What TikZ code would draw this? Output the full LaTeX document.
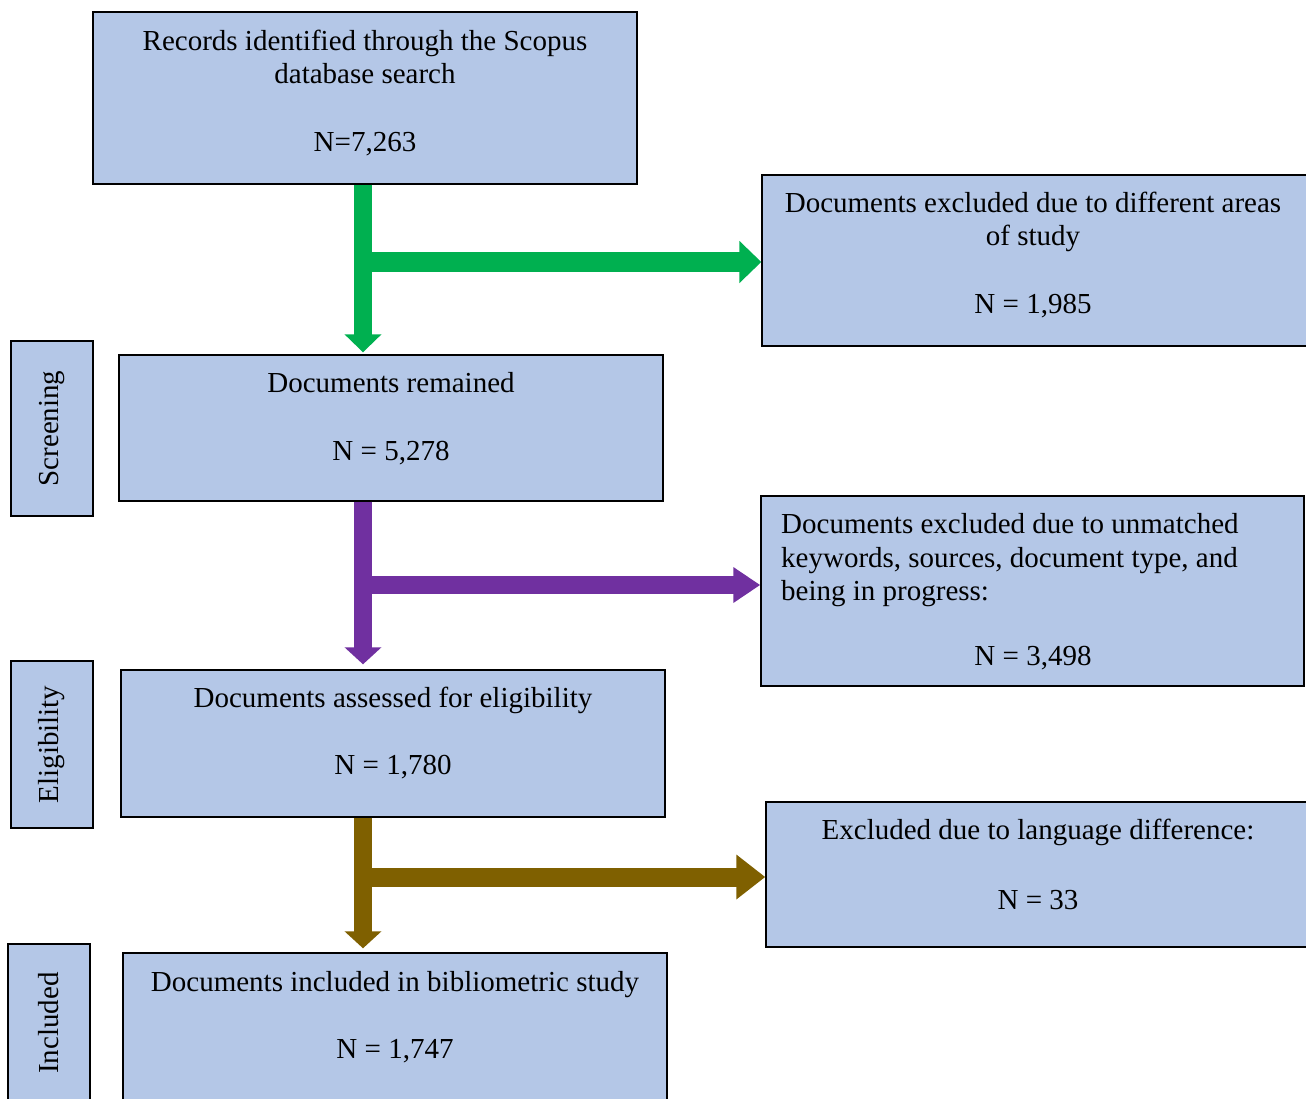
\documentclass[tikz,border=0pt]{standalone}
\usepackage{fontspec}
\setmainfont{Liberation Serif}
\usetikzlibrary{arrows.meta}
\definecolor{boxfill}{HTML}{B4C7E7}
\definecolor{ggreen}{HTML}{00B050}
\definecolor{gpurple}{HTML}{7030A0}
\definecolor{gbrown}{HTML}{7F6000}
\begin{document}
\begin{tikzpicture}[x=1pt,y=-1pt,
  box/.style={draw=black, line width=1.4pt, fill=boxfill, inner sep=0pt, font=\fontsize{29}{33}\selectfont},
  txt/.style={anchor=base, inner sep=0pt, font=\fontsize{29}{33}\selectfont},
  txtl/.style={anchor=base west, inner sep=0pt, font=\fontsize{29}{33}\selectfont},
  flow/.style={draw=#1, line width=18pt}
]
\useasboundingbox (0,0) rectangle (1306,1098);

% boxes
\node[box, minimum width=544pt, minimum height=172pt] (top) at (365,98) {};
\node[box, minimum width=546pt, minimum height=171pt] (ex1) at (1035,260.5) {};
\node[box, rotate=90, minimum width=175pt, minimum height=82pt] (scr) at (52,428.5) {Screening};
\node[box, minimum width=544pt, minimum height=146pt] (rem) at (391,428) {};
\node[box, minimum width=543pt, minimum height=190pt] (ex2) at (1032.5,591) {};
\node[box, rotate=90, minimum width=167pt, minimum height=82pt] (eli) at (52,744.5) {Eligibility};
\node[box, minimum width=544pt, minimum height=147pt] (ass) at (393,743.5) {};
\node[box, minimum width=542pt, minimum height=145pt] (ex3) at (1037,874.5) {};
\node[box, rotate=90, minimum width=158pt, minimum height=82pt] (inc) at (49,1023) {Included};
\node[box, minimum width=544pt, minimum height=147pt] (fin) at (395,1026.5) {};

% texts
\node[txt] (t1a) at (365,50) {Records identified through the Scopus};
\node[txt] (t1b) at (365,83) {database search};
\node[txt] (t1c) at (365,151) {N=7,263};
\node[txt] (t2a) at (1033,212) {Documents excluded due to different areas};
\node[txt] (t2b) at (1033,245) {of study};
\node[txt] (t2c) at (1033,313) {N = 1,985};
\node[txt] (t3a) at (391,392) {Documents remained};
\node[txt] (t3b) at (391,460) {N = 5,278};
\node[txtl] (t4a) at (781,533) {Documents excluded due to unmatched};
\node[txtl] (t4b) at (781,567) {keywords, sources, document type, and};
\node[txtl] (t4c) at (781,600) {being in progress:};
\node[txt] (t4d) at (1033,665) {N = 3,498};
\node[txt] (t5a) at (393,707) {Documents assessed for eligibility};
\node[txt] (t5b) at (393,774) {N = 1,780};
\node[txt] (t6a) at (1038,839) {Excluded due to language difference:};
\node[txt] (t6b) at (1038,909) {N = 33};
\node[txt] (t7a) at (395,991) {Documents included in bibliometric study};
\node[txt] (t7b) at (395,1058) {N = 1,747};

% junctions
\coordinate (gJ) at (363,262);
\coordinate (pJ) at (363,585);
\coordinate (bJ) at (363,877);

% green
\draw[flow=ggreen, -{Triangle[width=36pt,length=18pt]}, shorten >=2pt] (top.south -| gJ) -- (rem.north -| gJ);
\draw[flow=ggreen, line width=20pt, -{Triangle[width=41pt,length=22pt]}] (gJ) -- (ex1.west |- gJ);
% purple
\draw[flow=gpurple, -{Triangle[width=36pt,length=17pt]}, shorten >=5pt] (rem.south -| pJ) -- (ass.north -| pJ);
\draw[flow=gpurple, -{Triangle[width=34pt,length=27pt]}] (pJ) -- (ex2.west |- pJ);
% brown
\draw[flow=gbrown, -{Triangle[width=36pt,length=17pt]}, shorten >=4pt] (ass.south -| bJ) -- (fin.north -| bJ);
\draw[flow=gbrown, line width=19pt, -{Triangle[width=43pt,length=29pt]}] (bJ) -- (ex3.west |- bJ);
\end{tikzpicture}
\end{document}
